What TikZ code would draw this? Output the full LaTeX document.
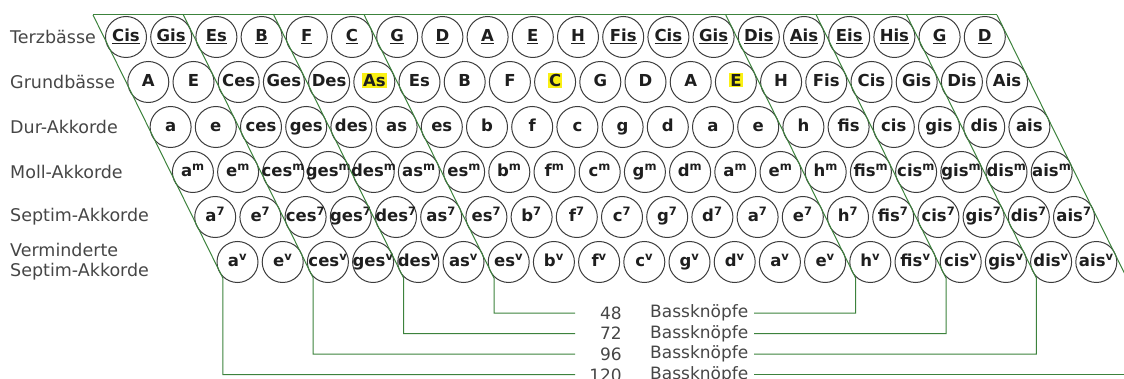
\documentclass[tikz,border=0pt]{standalone}
\usepackage{fontspec}
\setmainfont{DejaVu Sans}
\definecolor{grn}{RGB}{60,130,60}
\definecolor{btncol}{RGB}{60,60,60}
\definecolor{txtcol}{RGB}{30,30,30}
\definecolor{lblcol}{RGB}{70,70,70}
\definecolor{hly}{RGB}{250,240,20}
\newcommand\hlt[1]{{\setlength{\fboxsep}{1pt}\colorbox{hly}{#1}}}
\newcommand\zb[1]{\makebox[0pt]{#1}}
\begin{document}
\begin{tikzpicture}[x=1pt,y=-1pt,
  btn/.style={circle, draw=btncol, line width=1pt, minimum size=41pt, inner sep=0pt,
    text height=12pt, text depth=3.3pt,
    font=\fontsize{16.5}{16.5}\bfseries, text=txtcol},
  grp/.style={draw=grn, line width=1pt},
  lbl/.style={anchor=west, font=\fontsize{17.5}{20}\selectfont, text=lblcol, inner sep=0pt, align=left},
  cnt/.style={font=\fontsize{17}{20}\selectfont, text=lblcol, inner sep=0pt}]
\useasboundingbox (0,0) rectangle (1124,379);
% row labels
\node[lbl] (l1) at (10,37) {Terzbässe};
\node[lbl] (l2) at (10,82) {Grundbässe};
\node[lbl] (l3) at (10,127) {Dur-Akkorde};
\node[lbl] (l4) at (10,172) {Moll-Akkorde};
\node[lbl] (l5) at (10,217) {Septim-Akkorde};
\node[lbl] (l6) at (10,262) {Verminderte\\Septim-Akkorde};
% buttons
\foreach \t [count=\i from 0] in {Cis,Gis,Es,B,F,C,G,D,A,E,H,Fis,Cis,Gis,Dis,Ais,Eis,His,G,D}
  \node[btn] (a\i) at ({126+45.2*\i},37) {\zb{\underline{\t}}};
\foreach \t [count=\i from 0] in {A,E,Ces,Ges,Des,\hlt{As},Es,B,F,\hlt{C},G,D,A,\hlt{E},H,Fis,Cis,Gis,Dis,Ais}
  \node[btn] (b\i) at ({126+22.3+45.2*\i},82) {\zb{\t}};
\foreach \t [count=\i from 0] in {a,e,ces,ges,des,as,es,b,f,c,g,d,a,e,h,fis,cis,gis,dis,ais}
  {
  \node[btn] (c\i) at ({126+2*22.3+45.2*\i},127) {\zb{\t}};
  \node[btn] (d\i) at ({126+3*22.3+45.2*\i},172) {\zb{\t\textsuperscript{m}}};
  \node[btn] (e\i) at ({126+4*22.3+45.2*\i},217) {\zb{\t\textsuperscript{7}}};
  \node[btn] (f\i) at ({126+5*22.3+45.2*\i},262) {\zb{\t\textsuperscript{v}}};
  }
% group outlines
\foreach \k in {0,2,4,6,14,16,18,20}
  {
  \coordinate (top\k) at ({93+45.2*\k},15);
  \coordinate (bot\k) at ({222.8+45.2*\k},278);
  }
\draw[grp] (top0) -- (top20);
\coordinate (e120L) at (575,374.5);
\coordinate (e96L) at (575,354);
\coordinate (e72L) at (575,333.5);
\coordinate (e48L) at (575,313);
\coordinate (e120R) at (754,374.5);
\coordinate (e96R) at (754,354);
\coordinate (e72R) at (754,333.5);
\coordinate (e48R) at (754,313);
\coordinate (edge) at (1130,374.5);
\draw[grp] (top0) -- (bot0) |- (e120L);
\draw[grp] (top2) -- (bot2) |- (e96L);
\draw[grp] (top4) -- (bot4) |- (e72L);
\draw[grp] (top6) -- (bot6) |- (e48L);
\draw[grp] (top14) -- (bot14) |- (e48R);
\draw[grp] (top16) -- (bot16) |- (e72R);
\draw[grp] (top18) -- (bot18) |- (e96R);
\draw[grp] (top20) -- (bot20);
\draw[grp] (e120R) -- (edge);
% bottom labels
\node[cnt, anchor=east] (n48) at (622,313) {48};
\node[cnt, anchor=east] (n72) at (622,333.5) {72};
\node[cnt, anchor=east] (n96) at (622,354) {96};
\node[cnt, anchor=east] (n120) at (622,375) {120};
\node[cnt, anchor=west] (k48) at (650,313) {Bassknöpfe};
\node[cnt, anchor=west] (k72) at (650,333.5) {Bassknöpfe};
\node[cnt, anchor=west] (k96) at (650,354) {Bassknöpfe};
\node[cnt, anchor=west] (k120) at (650,375) {Bassknöpfe};
\end{tikzpicture}
\end{document}
